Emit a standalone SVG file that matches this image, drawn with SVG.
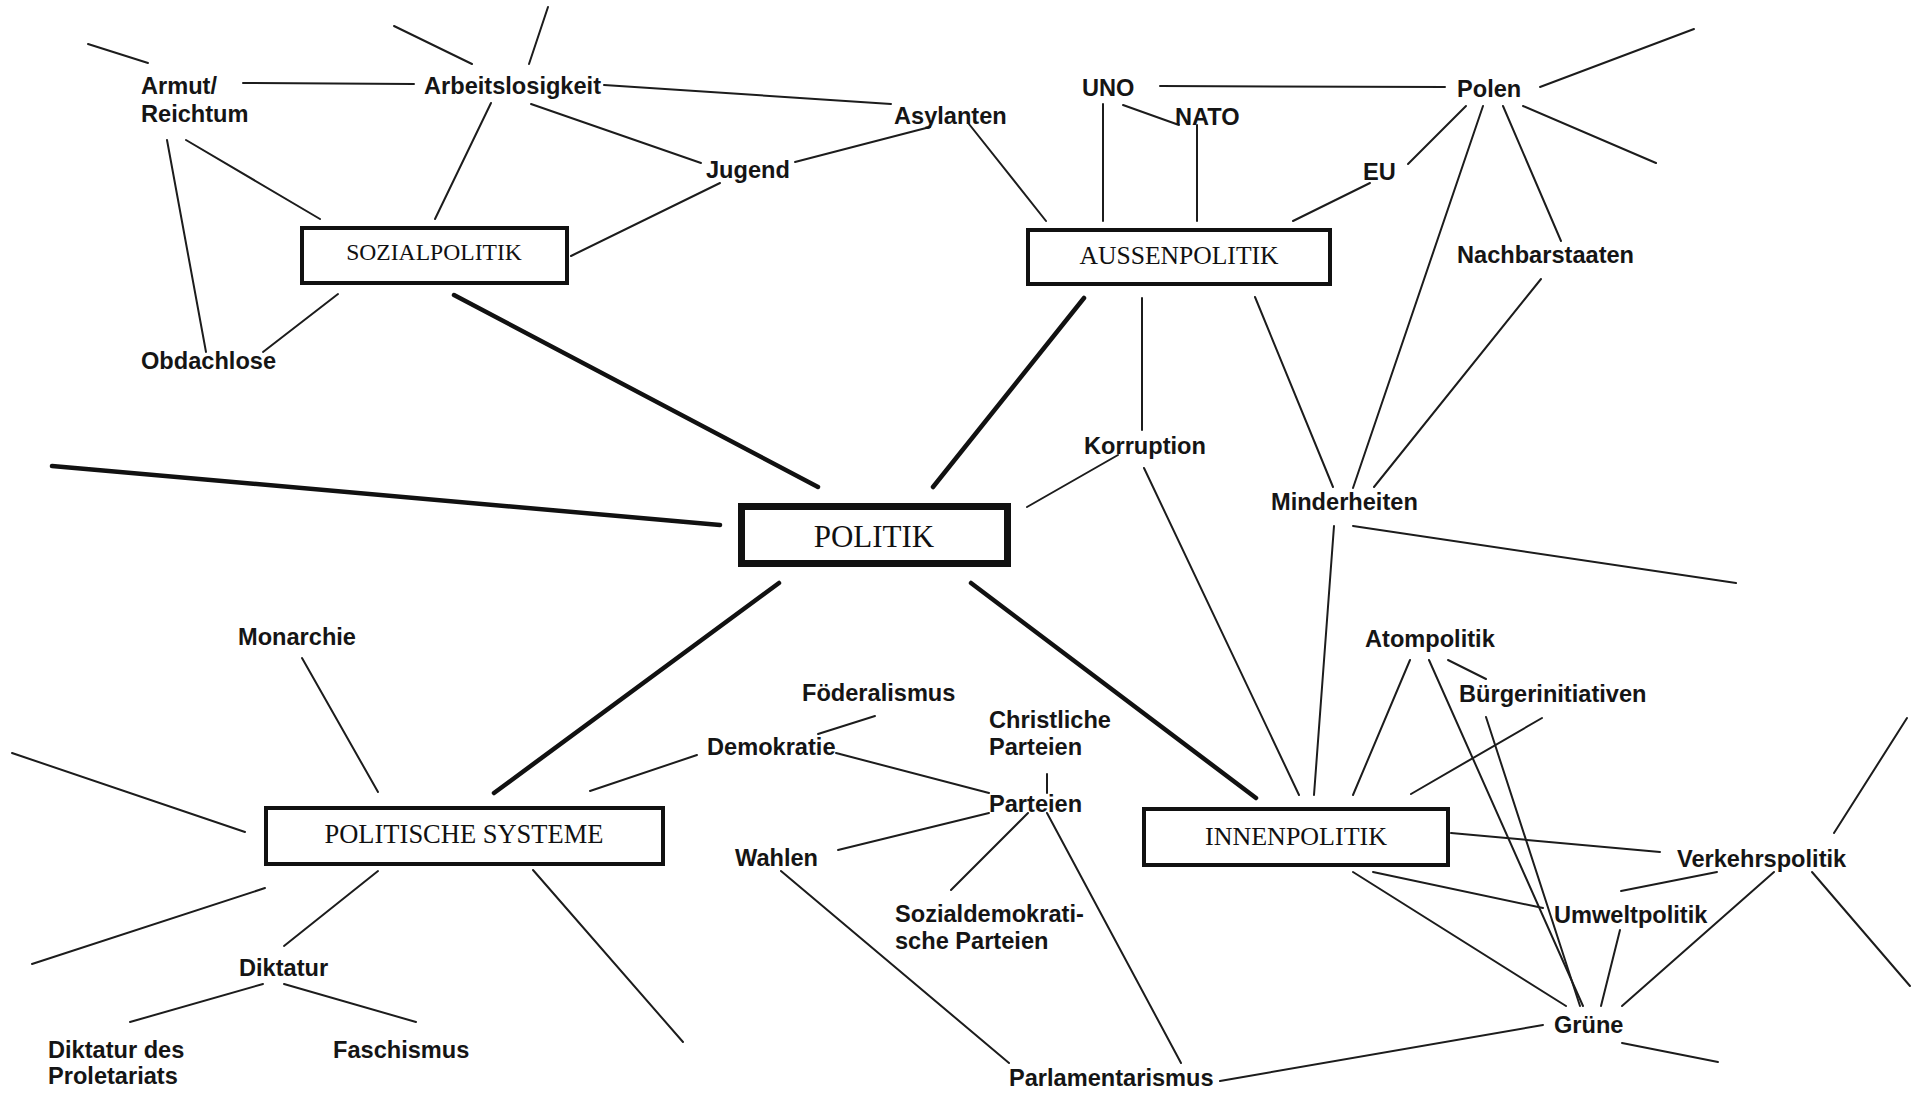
<svg xmlns="http://www.w3.org/2000/svg" width="1918" height="1097" viewBox="0 0 1918 1097">
  <style>
    .bg { fill: #ffffff; }
    .thin { stroke: #1c1c1c; stroke-width: 2; stroke-linecap: round; fill: none; }
    .thick { stroke: #111111; stroke-width: 4.5; stroke-linecap: round; fill: none; }
    .box { fill: #ffffff; stroke: #111111; stroke-width: 4; }
    .hub { fill: #ffffff; stroke: #111111; stroke-width: 7; }
    .title { font-family: "Liberation Serif", "Times New Roman", serif; fill: #111111; text-anchor: middle; }
    .lbl { font-family: "Liberation Sans", Arial, sans-serif; font-weight: bold; font-size: 23.6px; fill: #151515; }
  </style>
  <rect class="bg" x="0" y="0" width="1918" height="1097"/>

  <g id="connectors">
    <!-- Sozialpolitik cluster -->
    <line class="thin" x1="88" y1="44" x2="148" y2="63"/>
    <line class="thin" x1="394" y1="26" x2="472" y2="64"/>
    <line class="thin" x1="548" y1="7" x2="529" y2="64"/>
    <line class="thin" x1="243" y1="83" x2="414" y2="84"/>
    <line class="thin" x1="604" y1="85" x2="891" y2="104"/>
    <line class="thin" x1="167" y1="140" x2="206" y2="352"/>
    <line class="thin" x1="186" y1="140" x2="320" y2="219"/>
    <line class="thin" x1="491" y1="103" x2="435" y2="219"/>
    <line class="thin" x1="531" y1="104" x2="701" y2="163"/>
    <line class="thin" x1="571" y1="256" x2="720" y2="183"/>
    <line class="thin" x1="338" y1="294" x2="263" y2="352"/>
    <line class="thin" x1="795" y1="162" x2="930" y2="127"/>
    <!-- Aussenpolitik cluster -->
    <line class="thin" x1="969" y1="124" x2="1046" y2="221"/>
    <line class="thin" x1="1103" y1="104" x2="1103" y2="221"/>
    <line class="thin" x1="1123" y1="105" x2="1179" y2="125"/>
    <line class="thin" x1="1197" y1="125" x2="1197" y2="221"/>
    <line class="thin" x1="1160" y1="86" x2="1445" y2="87"/>
    <line class="thin" x1="1540" y1="87" x2="1694" y2="29"/>
    <line class="thin" x1="1523" y1="106" x2="1656" y2="163"/>
    <line class="thin" x1="1466" y1="106" x2="1408" y2="164"/>
    <line class="thin" x1="1370" y1="183" x2="1293" y2="221"/>
    <line class="thin" x1="1483" y1="106" x2="1353" y2="488"/>
    <line class="thin" x1="1503" y1="106" x2="1561" y2="241"/>
    <line class="thin" x1="1541" y1="279" x2="1374" y2="487"/>
    <line class="thin" x1="1142" y1="298" x2="1142" y2="430"/>
    <line class="thin" x1="1255" y1="297" x2="1333" y2="487"/>
    <line class="thin" x1="1118" y1="455" x2="1027" y2="507"/>
    <!-- Innenpolitik cluster -->
    <line class="thin" x1="1144" y1="468" x2="1299" y2="795"/>
    <line class="thin" x1="1334" y1="526" x2="1314" y2="795"/>
    <line class="thin" x1="1353" y1="526" x2="1736" y2="583"/>
    <line class="thin" x1="1448" y1="660" x2="1486" y2="679"/>
    <line class="thin" x1="1410" y1="660" x2="1353" y2="795"/>
    <line class="thin" x1="1429" y1="660" x2="1583" y2="1006"/>
    <line class="thin" x1="1486" y1="717" x2="1580" y2="1006"/>
    <line class="thin" x1="1542" y1="718" x2="1411" y2="794"/>
    <line class="thin" x1="1907" y1="718" x2="1834" y2="833"/>
    <line class="thin" x1="1451" y1="833" x2="1660" y2="852"/>
    <line class="thin" x1="1373" y1="872" x2="1543" y2="908"/>
    <line class="thin" x1="1353" y1="872" x2="1566" y2="1006"/>
    <line class="thin" x1="1717" y1="872" x2="1621" y2="891"/>
    <line class="thin" x1="1774" y1="872" x2="1622" y2="1006"/>
    <line class="thin" x1="1812" y1="872" x2="1910" y2="986"/>
    <line class="thin" x1="1620" y1="930" x2="1601" y2="1006"/>
    <line class="thin" x1="1622" y1="1043" x2="1718" y2="1062"/>
    <line class="thin" x1="1220" y1="1081" x2="1543" y2="1025"/>
    <!-- Parteien / Demokratie -->
    <line class="thin" x1="1047" y1="774" x2="1047" y2="793"/>
    <line class="thin" x1="836" y1="753" x2="989" y2="793"/>
    <line class="thin" x1="838" y1="850" x2="989" y2="813"/>
    <line class="thin" x1="1028" y1="813" x2="951" y2="890"/>
    <line class="thin" x1="1047" y1="813" x2="1181" y2="1063"/>
    <line class="thin" x1="781" y1="871" x2="1009" y2="1063"/>
    <line class="thin" x1="875" y1="716" x2="818" y2="734"/>
    <line class="thin" x1="697" y1="755" x2="590" y2="791"/>
    <!-- Politische Systeme cluster -->
    <line class="thin" x1="533" y1="870" x2="683" y2="1042"/>
    <line class="thin" x1="302" y1="658" x2="378" y2="792"/>
    <line class="thin" x1="12" y1="753" x2="245" y2="832"/>
    <line class="thin" x1="265" y1="888" x2="32" y2="964"/>
    <line class="thin" x1="378" y1="871" x2="284" y2="946"/>
    <line class="thin" x1="263" y1="984" x2="130" y2="1022"/>
    <line class="thin" x1="284" y1="984" x2="416" y2="1022"/>
    <!-- main spokes around POLITIK -->
    <line class="thick" x1="454" y1="295" x2="818" y2="487"/>
    <line class="thick" x1="1084" y1="298" x2="933" y2="487"/>
    <line class="thick" x1="52" y1="466" x2="720" y2="525"/>
    <line class="thick" x1="779" y1="583" x2="494" y2="793"/>
    <line class="thick" x1="971" y1="583" x2="1256" y2="798"/>
  </g>

  <g id="politik">
    <rect class="hub" x="741.5" y="506.5" width="266" height="57"/>
    <text class="title" x="874" y="547" font-size="31">POLITIK</text>
  </g>
  <g id="sozialpolitik">
    <rect class="box" x="302" y="228" width="265" height="55"/>
    <text class="title" x="434" y="260" font-size="23.6">SOZIALPOLITIK</text>
  </g>
  <g id="aussenpolitik">
    <rect class="box" x="1028" y="230" width="302" height="54"/>
    <text class="title" x="1179" y="264" font-size="25.6">AUSSENPOLITIK</text>
  </g>
  <g id="politische-systeme">
    <rect class="box" x="266" y="808" width="397" height="56"/>
    <text class="title" x="464" y="843" font-size="26.5">POLITISCHE SYSTEME</text>
  </g>
  <g id="innenpolitik">
    <rect class="box" x="1144" y="809" width="304" height="56"/>
    <text class="title" x="1296" y="845" font-size="26">INNENPOLITIK</text>
  </g>

  <g id="armut"><text class="lbl" x="141" y="94">Armut/</text><text class="lbl" x="141" y="122">Reichtum</text></g>
  <g id="arbeitslosigkeit"><text class="lbl" x="424" y="94">Arbeitslosigkeit</text></g>
  <g id="asylanten"><text class="lbl" x="894" y="124">Asylanten</text></g>
  <g id="jugend"><text class="lbl" x="706" y="178">Jugend</text></g>
  <g id="obdachlose"><text class="lbl" x="141" y="369">Obdachlose</text></g>
  <g id="uno"><text class="lbl" x="1082" y="96">UNO</text></g>
  <g id="nato"><text class="lbl" x="1175" y="125">NATO</text></g>
  <g id="polen"><text class="lbl" x="1457" y="97">Polen</text></g>
  <g id="eu"><text class="lbl" x="1363" y="180">EU</text></g>
  <g id="nachbarstaaten"><text class="lbl" x="1457" y="263">Nachbarstaaten</text></g>
  <g id="korruption"><text class="lbl" x="1084" y="454">Korruption</text></g>
  <g id="minderheiten"><text class="lbl" x="1271" y="510">Minderheiten</text></g>
  <g id="atompolitik"><text class="lbl" x="1365" y="647">Atompolitik</text></g>
  <g id="buergerinitiativen"><text class="lbl" x="1459" y="702">Bürgerinitiativen</text></g>
  <g id="verkehrspolitik"><text class="lbl" x="1677" y="867">Verkehrspolitik</text></g>
  <g id="umweltpolitik"><text class="lbl" x="1554" y="923">Umweltpolitik</text></g>
  <g id="gruene"><text class="lbl" x="1554" y="1033">Grüne</text></g>
  <g id="parlamentarismus"><text class="lbl" x="1009" y="1086">Parlamentarismus</text></g>
  <g id="parteien"><text class="lbl" x="989" y="812">Parteien</text></g>
  <g id="christliche-parteien"><text class="lbl" x="989" y="728">Christliche</text><text class="lbl" x="989" y="755">Parteien</text></g>
  <g id="sozialdemokratische-parteien"><text class="lbl" x="895" y="922">Sozialdemokrati-</text><text class="lbl" x="895" y="949">sche Parteien</text></g>
  <g id="wahlen"><text class="lbl" x="735" y="866">Wahlen</text></g>
  <g id="demokratie"><text class="lbl" x="707" y="755">Demokratie</text></g>
  <g id="foederalismus"><text class="lbl" x="802" y="701">Föderalismus</text></g>
  <g id="monarchie"><text class="lbl" x="238" y="645">Monarchie</text></g>
  <g id="diktatur"><text class="lbl" x="239" y="976">Diktatur</text></g>
  <g id="diktatur-des-proletariats"><text class="lbl" x="48" y="1058">Diktatur des</text><text class="lbl" x="48" y="1084">Proletariats</text></g>
  <g id="faschismus"><text class="lbl" x="333" y="1058">Faschismus</text></g>
</svg>
